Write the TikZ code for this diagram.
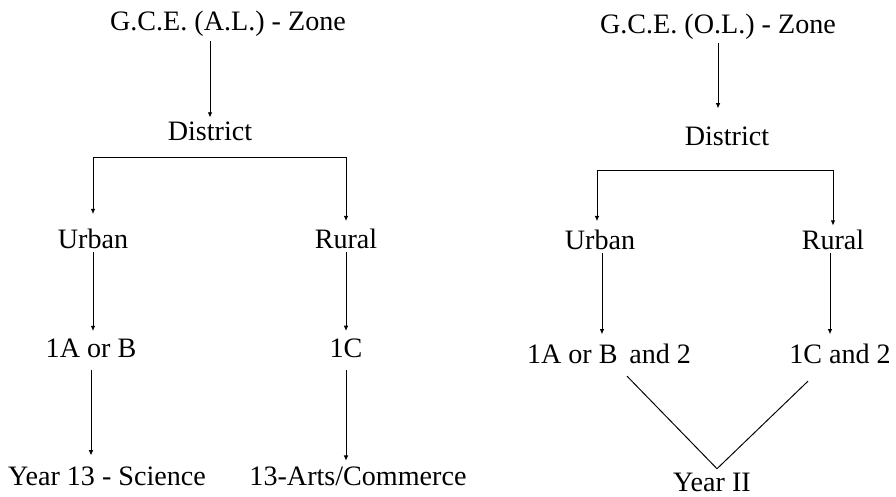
\documentclass[tikz,border=0pt]{standalone}
\usepackage{fontspec}
\setmainfont{Liberation Serif}
\usetikzlibrary{arrows.meta,calc,positioning}

\begin{document}
\begin{tikzpicture}[x=0.02cm,y=-0.02cm,
    lbl/.style={inner xsep=0pt,inner ysep=2pt,anchor=base,font=\fontsize{16}{19}\selectfont},
    arrow/.style={-{Latex[length=3pt,width=2.6pt]},line width=0.55pt},
    link/.style={line width=0.55pt}
    ]
    \useasboundingbox (0,0) rectangle (896,497);

    % A.L. side
    \node[lbl] (zoneA) at (228,31) {G.C.E. (A.L.) - Zone};
    \node[lbl] (distA) at (210,140) {District};
    \node[lbl] (urbA) at (93,248) {Urban};
    \node[lbl] (rurA) at (346,248) {Rural};
    \node[lbl] (oneAB) at (91,357) {1A or B};
    \node[lbl] (oneC) at (346,357) {1C};
    \node[lbl] (sciA) at (107,485) {Year 13 - Science};
    \node[lbl] (artsA) at (358,485) {13-Arts/Commerce};
    \coordinate (barA) at (210,157);

    \draw[arrow] (zoneA.south -| distA.north) -- (distA.north);
    \draw[link] (barA -| urbA.north) -- (barA -| rurA.north);
    \draw[arrow,shorten >=6pt] (barA -| urbA.north) -- (urbA.north);
    \draw[arrow,shorten >=2pt] (barA -| rurA.north) -- (rurA.north);
    \draw[arrow,shorten >=2pt] (urbA.south) -- (urbA.south |- oneAB.north);
    \draw[arrow,shorten >=2pt] (rurA.south) -- (oneC.north);
    \draw[arrow,shorten <=5pt,shorten >=4pt] (oneAB.south) -- (oneAB.south |- sciA.north);
    \draw[arrow,shorten <=5pt,shorten >=1pt] (oneC.south) -- (oneC.south |- artsA.north);

    % O.L. side
    \node[lbl] (zoneB) at (718,33) {G.C.E. (O.L.) - Zone};
    \node[lbl] (distB) at (727,145) {District};
    \node[lbl] (urbB) at (600,249) {Urban};
    \node[lbl] (rurB) at (833,249) {Rural};
    \node[lbl] (oneAB2) at (609,363) {1A or B \,and 2};
    \node[lbl] (oneC2) at (840,363) {1C and 2};
    \node[lbl] (yearB) at (712,491) {Year II};
    \coordinate (barBL) at (597,170);
    \coordinate (barBR) at (833,170);

    \draw[arrow,shorten >=8pt] (zoneB.south) -- (zoneB.south |- distB.north);
    \draw[link] (barBL) -- (barBR);
    \draw[arrow,shorten >=2.5pt] (barBL) -- (barBL |- urbB.north);
    \draw[arrow] (barBR) -- (rurB.north);
    \draw[arrow,shorten >=3pt] (urbB.south) ++(2,0) coordinate (uB) -- (uB |- oneAB2.north);
    \draw[arrow,shorten >=3pt] (rurB.south) ++(-3,0) coordinate (rB) -- (rB |- oneC2.north);
    \draw[link] ($(oneAB2.south)+(18,9)$) -- ($(yearB.north)+(5,0)$);
    \draw[link] ($(oneC2.south)+(-32,14)$) -- ($(yearB.north)+(5,0)$);

\end{tikzpicture}
\end{document}
